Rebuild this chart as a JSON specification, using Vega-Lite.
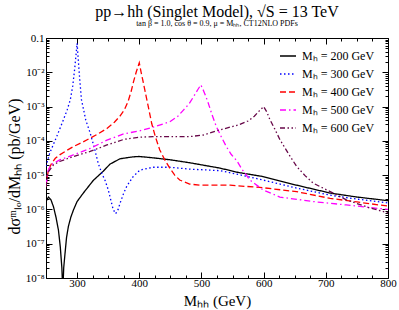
{
  "$schema": "https://vega.github.io/schema/vega-lite/v6.json",
  "width": 342,
  "height": 240,
  "autosize": {"type": "none"},
  "padding": {"left": 46, "top": 38, "right": 11, "bottom": 32},
  "background": "white",
  "config": {
    "view": {"stroke": "black", "strokeWidth": 1},
    "font": "Liberation Serif",
    "axis": {"domain": false, "grid": false, "labelFont": "Liberation Serif", "labelColor": "black", "labelFontSize": 11, "titleFont": "Liberation Serif", "titleFontWeight": "normal", "titleColor": "black", "titleFontSize": 15, "tickColor": "black", "labelOverlap": false, "labelBound": false, "labelFlush": false}
  },
  "title": {"text": "pp→hh (Singlet Model), √S = 13 TeV", "subtitle": "tan β = 1.0, cos θ = 0.9, μ = Mₕₕ, CT12NLO PDFs", "font": "Liberation Serif", "subtitleFont": "Liberation Serif", "fontSize": 16, "subtitleFontSize": 8, "fontWeight": "normal", "color": "black", "subtitleColor": "black", "anchor": "middle", "offset": 4, "subtitlePadding": 0},
  "data": {"values": [
    {"s":"200","x":250,"y":1.7e-6},{"s":"200","x":254,"y":2.3e-6},{"s":"200","x":258,"y":1.9e-6},{"s":"200","x":262,"y":1.2e-6},{"s":"200","x":266,"y":6e-7},{"s":"200","x":270,"y":2.5e-7},{"s":"200","x":273,"y":8e-8},{"s":"200","x":275.5,"y":2e-8},{"s":"200","x":277,"y":4e-9},{"s":"200","x":278.5,"y":2e-8},{"s":"200","x":280.5,"y":5e-8},{"s":"200","x":283,"y":1.5e-7},{"s":"200","x":286,"y":3.2e-7},{"s":"200","x":290,"y":6e-7},{"s":"200","x":294,"y":9.5e-7},{"s":"200","x":300,"y":1.7e-6},{"s":"200","x":310,"y":3e-6},{"s":"200","x":326,"y":7e-6},{"s":"200","x":342,"y":1.3e-5},{"s":"200","x":353,"y":2.1e-5},{"s":"200","x":369,"y":3e-5},{"s":"200","x":389,"y":3.4e-5},{"s":"200","x":400,"y":3.5e-5},{"s":"200","x":422,"y":3.2e-5},{"s":"200","x":450,"y":2.8e-5},{"s":"200","x":481,"y":2.3e-5},{"s":"200","x":530,"y":1.6e-5},{"s":"200","x":559,"y":1.2e-5},{"s":"200","x":599,"y":9.1e-6},{"s":"200","x":653,"y":5.1e-6},{"s":"200","x":707,"y":3e-6},{"s":"200","x":750,"y":2.3e-6},{"s":"200","x":800,"y":1.8e-6},
    {"s":"300","x":250,"y":1.8e-5},{"s":"300","x":256,"y":4.4e-5},{"s":"300","x":262,"y":8e-5},{"s":"300","x":267,"y":1.3e-4},{"s":"300","x":272,"y":2.2e-4},{"s":"300","x":278,"y":4.1e-4},{"s":"300","x":284,"y":8e-4},{"s":"300","x":289,"y":1.55e-3},{"s":"300","x":293,"y":4e-3},{"s":"300","x":296,"y":1.2e-2},{"s":"300","x":298.5,"y":3.5e-2},{"s":"300","x":300,"y":7e-2},{"s":"300","x":302,"y":2.2e-2},{"s":"300","x":304,"y":7e-3},{"s":"300","x":307,"y":1.6e-3},{"s":"300","x":314,"y":4e-4},{"s":"300","x":321,"y":1.7e-4},{"s":"300","x":328,"y":6e-5},{"s":"300","x":334,"y":2.2e-5},{"s":"300","x":340,"y":1.1e-5},{"s":"300","x":345,"y":7e-6},{"s":"300","x":350,"y":3.8e-6},{"s":"300","x":353,"y":2.3e-6},{"s":"300","x":358,"y":1e-6},{"s":"300","x":362,"y":7.5e-7},{"s":"300","x":366,"y":1e-6},{"s":"300","x":369,"y":1.5e-6},{"s":"300","x":375,"y":3e-6},{"s":"300","x":380,"y":4.8e-6},{"s":"300","x":390,"y":9e-6},{"s":"300","x":401,"y":1.4e-5},{"s":"300","x":422,"y":1.7e-5},{"s":"300","x":449,"y":1.7e-5},{"s":"300","x":481,"y":1.5e-5},{"s":"300","x":530,"y":1.35e-5},{"s":"300","x":559,"y":1.05e-5},{"s":"300","x":599,"y":7.2e-6},{"s":"300","x":653,"y":4.2e-6},{"s":"300","x":707,"y":2.6e-6},{"s":"300","x":750,"y":2e-6},{"s":"300","x":800,"y":1.55e-6},
    {"s":"400","x":250,"y":4.6e-6},{"s":"400","x":252,"y":9e-6},{"s":"400","x":254,"y":1.4e-5},{"s":"400","x":259,"y":2.2e-5},{"s":"400","x":265,"y":3.1e-5},{"s":"400","x":272,"y":3.9e-5},{"s":"400","x":283,"y":5.2e-5},{"s":"400","x":294,"y":6.8e-5},{"s":"400","x":308,"y":9e-5},{"s":"400","x":321,"y":1.2e-4},{"s":"400","x":335,"y":1.65e-4},{"s":"400","x":348,"y":2.3e-4},{"s":"400","x":360,"y":3.5e-4},{"s":"400","x":369,"y":5.3e-4},{"s":"400","x":376,"y":8e-4},{"s":"400","x":382,"y":1.4e-3},{"s":"400","x":387,"y":2.8e-3},{"s":"400","x":391,"y":5.5e-3},{"s":"400","x":395,"y":1e-2},{"s":"400","x":400,"y":1.9e-2},{"s":"400","x":403,"y":1e-2},{"s":"400","x":406,"y":5.5e-3},{"s":"400","x":409,"y":3e-3},{"s":"400","x":414,"y":1.1e-3},{"s":"400","x":420,"y":3.2e-4},{"s":"400","x":426,"y":1.3e-4},{"s":"400","x":433,"y":5.4e-5},{"s":"400","x":441,"y":2.8e-5},{"s":"400","x":449,"y":1.6e-5},{"s":"400","x":457,"y":1e-5},{"s":"400","x":465,"y":7.2e-6},{"s":"400","x":481,"y":5.5e-6},{"s":"400","x":497,"y":5.1e-6},{"s":"400","x":546,"y":5.1e-6},{"s":"400","x":599,"y":4.3e-6},{"s":"400","x":653,"y":3.3e-6},{"s":"400","x":707,"y":2.1e-6},{"s":"400","x":750,"y":1.65e-6},{"s":"400","x":800,"y":1.25e-6},
    {"s":"500","x":250,"y":5e-6},{"s":"500","x":253,"y":1.3e-5},{"s":"500","x":258,"y":2e-5},{"s":"500","x":272,"y":2.8e-5},{"s":"500","x":294,"y":3.9e-5},{"s":"500","x":321,"y":6e-5},{"s":"500","x":348,"y":1.05e-4},{"s":"500","x":375,"y":1.6e-4},{"s":"500","x":400,"y":1.95e-4},{"s":"500","x":422,"y":2.5e-4},{"s":"500","x":449,"y":3.6e-4},{"s":"500","x":462,"y":5.2e-4},{"s":"500","x":471,"y":7.9e-4},{"s":"500","x":480,"y":1.2e-3},{"s":"500","x":487,"y":1.9e-3},{"s":"500","x":494,"y":3.1e-3},{"s":"500","x":499,"y":4.3e-3},{"s":"500","x":503,"y":3e-3},{"s":"500","x":507,"y":2e-3},{"s":"500","x":511,"y":1.25e-3},{"s":"500","x":517,"y":5.8e-4},{"s":"500","x":524,"y":2.6e-4},{"s":"500","x":532,"y":1.3e-4},{"s":"500","x":540,"y":6.8e-5},{"s":"500","x":548,"y":4e-5},{"s":"500","x":557,"y":2.6e-5},{"s":"500","x":565,"y":1.5e-5},{"s":"500","x":578,"y":7.2e-6},{"s":"500","x":599,"y":3.7e-6},{"s":"500","x":626,"y":2.3e-6},{"s":"500","x":679,"y":1.7e-6},{"s":"500","x":733,"y":1.35e-6},{"s":"500","x":800,"y":1e-6},
    {"s":"600","x":250,"y":4.5e-6},{"s":"600","x":253,"y":1.2e-5},{"s":"600","x":262,"y":2e-5},{"s":"600","x":272,"y":2.5e-5},{"s":"600","x":294,"y":3.5e-5},{"s":"600","x":321,"y":4.9e-5},{"s":"600","x":348,"y":7.6e-5},{"s":"600","x":375,"y":1.1e-4},{"s":"600","x":400,"y":1.28e-4},{"s":"600","x":422,"y":1.32e-4},{"s":"600","x":450,"y":1.32e-4},{"s":"600","x":481,"y":1.33e-4},{"s":"600","x":503,"y":1.48e-4},{"s":"600","x":530,"y":2.1e-4},{"s":"600","x":559,"y":2.9e-4},{"s":"600","x":575,"y":3.8e-4},{"s":"600","x":585,"y":5.2e-4},{"s":"600","x":593,"y":7.5e-4},{"s":"600","x":600,"y":1e-3},{"s":"600","x":605,"y":7e-4},{"s":"600","x":610,"y":4.2e-4},{"s":"600","x":618,"y":2.2e-4},{"s":"600","x":626,"y":1.1e-4},{"s":"600","x":640,"y":4.2e-5},{"s":"600","x":653,"y":1.8e-5},{"s":"600","x":667,"y":9.5e-6},{"s":"600","x":680,"y":5.8e-6},{"s":"600","x":707,"y":3.3e-6},{"s":"600","x":733,"y":1.9e-6},{"s":"600","x":771,"y":1.1e-6},{"s":"600","x":800,"y":8e-7}
  ]},
  "layer": [
    {
      "mark": {"type": "line", "strokeWidth": 1.3, "clip": true},
      "encoding": {
        "x": {"field": "x", "type": "quantitative", "scale": {"domain": [250, 800], "nice": false, "zero": false},
          "axis": {"orient": "bottom", "values": [250,275,300,325,350,375,400,425,450,475,500,525,550,575,600,625,650,675,700,725,750,775,800], "labelExpr": "datum.value % 100 == 0 ? datum.label : ''", "tickSize": {"condition": {"test": "datum.value % 100 == 0", "value": -6}, "value": -3}, "labelPadding": 5, "title": "Mₕₕ (GeV)", "titlePadding": 2}},
        "y": {"field": "y", "type": "quantitative", "scale": {"type": "log", "domain": [1e-8, 0.1], "nice": false},
          "axis": {"orient": "left", "values": [1e-8,2e-8,3e-8,4e-8,5e-8,6e-8,7e-8,8e-8,9e-8,1e-7,2e-7,3e-7,4e-7,5e-7,6e-7,7e-7,8e-7,9e-7,1e-6,2e-6,3e-6,4e-6,5e-6,6e-6,7e-6,8e-6,9e-6,1e-5,2e-5,3e-5,4e-5,5e-5,6e-5,7e-5,8e-5,9e-5,1e-4,2e-4,3e-4,4e-4,5e-4,6e-4,7e-4,8e-4,9e-4,1e-3,2e-3,3e-3,4e-3,5e-3,6e-3,7e-3,8e-3,9e-3,1e-2,2e-2,3e-2,4e-2,5e-2,6e-2,7e-2,8e-2,9e-2,0.1],
            "labelExpr": "abs(log(datum.value)/LN10 - round(log(datum.value)/LN10)) > 0.001 ? '' : (datum.value > 0.05 ? '0.1' : '10⁻' + ['','','²','³','⁴','⁵','⁶','⁷','⁸'][-round(log(datum.value)/LN10)])",
            "tickSize": {"condition": {"test": "abs(log(datum.value)/LN10 - round(log(datum.value)/LN10)) < 0.001", "value": -6}, "value": -3},
            "labelPadding": 8, "title": "dσᵐₗₒ/dMₕₕ (pb/GeV)", "titleFontSize": 16, "titleY": 128, "titlePadding": 3}},
        "color": {"field": "s", "type": "nominal", "scale": {"domain": ["200","300","400","500","600"], "range": ["#000000","#0000ff","#ff0000","#ff00ff","#670748"]},
          "legend": {"title": null, "orient": "none", "legendX": 233, "legendY": 9, "symbolType": "stroke", "symbolSize": 256, "symbolStrokeWidth": 1.3, "labelFont": "Liberation Serif", "labelFontSize": 12, "labelColor": "black", "labelOffset": 5, "rowPadding": 3, "padding": 0, "labelExpr": "'Mₕ = ' + datum.label + ' GeV'"}},
        "strokeDash": {"field": "s", "type": "nominal", "scale": {"domain": ["200","300","400","500","600"], "range": [[1,0],[1.5,2.5],[6,3],[6,3,1.5,3],[5,2.5,1.5,2.5,1.5,2.5]]},
          "legend": {"title": null, "orient": "none", "legendX": 233, "legendY": 9, "symbolType": "stroke", "symbolSize": 256, "symbolStrokeWidth": 1.3, "labelFont": "Liberation Serif", "labelFontSize": 12, "labelColor": "black", "labelOffset": 5, "rowPadding": 3, "padding": 0, "labelExpr": "'Mₕ = ' + datum.label + ' GeV'"}}
      }
    },
    {
      "mark": {"type": "line", "opacity": 0},
      "encoding": {
        "x": {"field": "x", "type": "quantitative", "scale": {"domain": [250, 800], "nice": false, "zero": false},
          "axis": {"orient": "top", "values": [250,275,300,325,350,375,400,425,450,475,500,525,550,575,600,625,650,675,700,725,750,775,800], "labels": false, "tickSize": {"condition": {"test": "datum.value % 100 == 0", "value": -6}, "value": -3}, "title": null}},
        "y": {"field": "y", "type": "quantitative", "scale": {"type": "log", "domain": [1e-8, 0.1], "nice": false},
          "axis": {"orient": "right", "values": [1e-8,2e-8,3e-8,4e-8,5e-8,6e-8,7e-8,8e-8,9e-8,1e-7,2e-7,3e-7,4e-7,5e-7,6e-7,7e-7,8e-7,9e-7,1e-6,2e-6,3e-6,4e-6,5e-6,6e-6,7e-6,8e-6,9e-6,1e-5,2e-5,3e-5,4e-5,5e-5,6e-5,7e-5,8e-5,9e-5,1e-4,2e-4,3e-4,4e-4,5e-4,6e-4,7e-4,8e-4,9e-4,1e-3,2e-3,3e-3,4e-3,5e-3,6e-3,7e-3,8e-3,9e-3,1e-2,2e-2,3e-2,4e-2,5e-2,6e-2,7e-2,8e-2,9e-2,0.1], "labels": false, "tickSize": {"condition": {"test": "abs(log(datum.value)/LN10 - round(log(datum.value)/LN10)) < 0.001", "value": -6}, "value": -3}, "title": null}},
        "detail": {"field": "s", "type": "nominal"}
      }
    }
  ],
  "resolve": {"axis": {"x": "independent", "y": "independent"}}
}
